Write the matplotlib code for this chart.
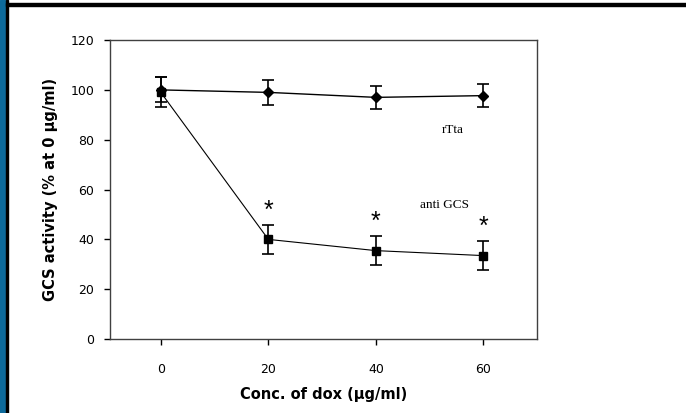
import matplotlib.pyplot as plt
from matplotlib.patches import Rectangle

# concentration of dox (ug/ml)
conc = [0, 20, 40, 60]

# rTta control
rtta = [100, 99, 97, 97.7]
rtta_err = [5, 5, 4.5, 4.5]

# anti GCS
anti = [99, 40, 35.5, 33.5]
anti_err = [6, 5.8, 5.8, 5.7]

yticks = [0, 20, 40, 60, 80, 100, 120]
xticks = [0, 20, 40, 60]

plt.rcParams['font.family'] = ['DejaVu Sans']

fig = plt.figure(figsize=(6.86, 4.13), dpi=100)
ax = fig.add_axes([0.160, 0.179, 0.623, 0.724])

ax.errorbar(conc, rtta, yerr=rtta_err, color='black', marker='D', markersize=5,
            linewidth=1, elinewidth=1.2, capsize=4, capthick=1.2)
ax.errorbar(conc, anti, yerr=anti_err, color='black', marker='s', markersize=6,
            linewidth=0.8, elinewidth=1.2, capsize=4, capthick=1.2)

# significance marks
for x, y, e in zip(conc[1:], anti[1:], anti_err[1:]):
    ax.text(x, y + e + 1, '*', ha='center', va='bottom', fontsize=18,
            family='Liberation Sans')

ax.text(52.3, 84, 'rTta', fontsize=9.5, family='Liberation Serif', va='center')
ax.text(48.2, 54, 'anti GCS', fontsize=9.5, family='Liberation Serif', va='center')

ax.set_xlim(-9.5, 70)
ax.set_ylim(0, 120)
ax.set_xticks(xticks)
ax.set_yticks(yticks)
ax.tick_params(labelsize=9, length=4, width=1)
ax.tick_params(axis='x', pad=13)
ax.tick_params(axis='y', pad=7)
for s in ax.spines.values():
    s.set_color('#404040')
    s.set_linewidth(1)

ax.set_xlabel('Conc. of dox (µg/ml)', fontsize=10.5, fontweight='bold', labelpad=8)
ax.set_ylabel('GCS activity (% at 0 µg/ml)', fontsize=10.5, fontweight='bold', labelpad=9)

# page frame: blue strip on left, black lines left and top
W, H = 686, 413
fig.patches.append(Rectangle((0, 0), 5 / W, 1, transform=fig.transFigure,
                             color='#0d6a9b', zorder=0))
fig.patches.append(Rectangle((6 / W, 0), 2 / W, 1, transform=fig.transFigure,
                             color='black', zorder=0))
fig.patches.append(Rectangle((6 / W, 1 - 6 / H), 1, 3 / H, transform=fig.transFigure,
                             color='black', zorder=0))

fig.savefig('out.png', dpi=100)
